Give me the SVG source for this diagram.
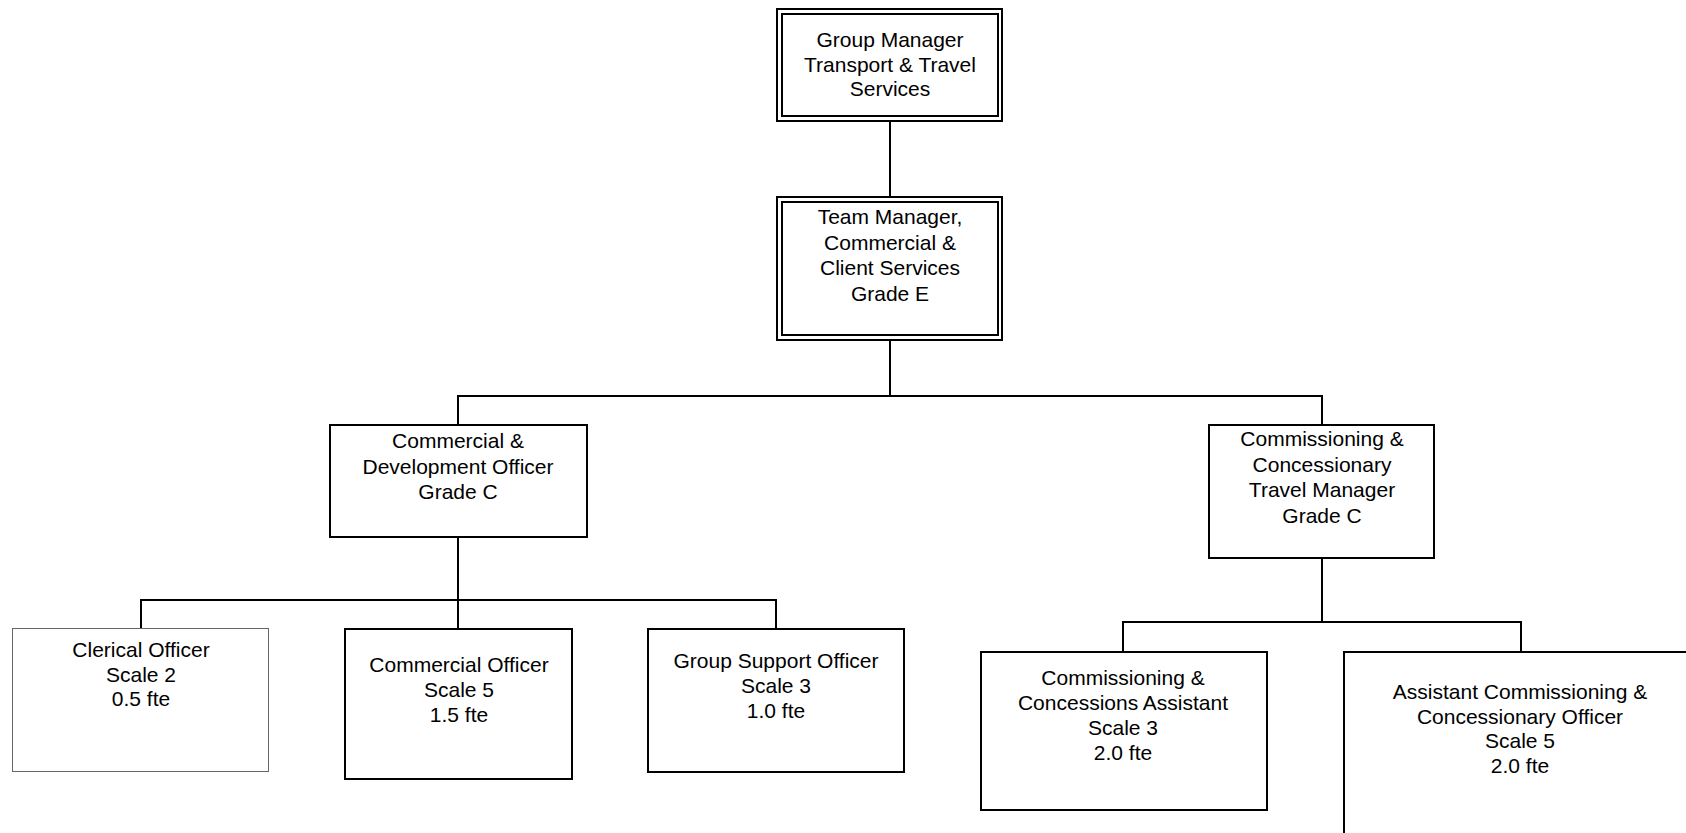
<svg xmlns="http://www.w3.org/2000/svg" width="1686" height="833" viewBox="0 0 1686 833">
<style>
.box{fill:#fff;stroke:#000;stroke-width:2}
.thin{fill:#fff;stroke:#666;stroke-width:1}
.conn line{stroke:#000;stroke-width:2}
text{font-family:"Liberation Sans",Arial,sans-serif;font-size:21px;fill:#000;text-anchor:middle}
</style>
<rect width="1686" height="833" fill="#fff"/>
<g id="connectors" class="conn">
<line x1="890" y1="122" x2="890" y2="196"/>
<line x1="890" y1="341" x2="890" y2="396"/>
<line x1="457" y1="396" x2="1323" y2="396"/>
<line x1="458" y1="396" x2="458" y2="424"/>
<line x1="1322" y1="396" x2="1322" y2="424"/>
<line x1="458" y1="537" x2="458" y2="628"/>
<line x1="140" y1="600" x2="777" y2="600"/>
<line x1="141" y1="600" x2="141" y2="628"/>
<line x1="776" y1="600" x2="776" y2="628"/>
<line x1="1322" y1="558" x2="1322" y2="622"/>
<line x1="1122" y1="622" x2="1522" y2="622"/>
<line x1="1123" y1="622" x2="1123" y2="651"/>
<line x1="1521" y1="622" x2="1521" y2="651"/>
</g>
<g id="group-manager">
<rect class="box" x="777" y="9" width="225" height="112"/>
<rect class="box" x="782" y="14" width="216" height="102"/>
<text x="890" y="47">Group Manager</text>
<text x="890" y="71.5">Transport &amp; Travel</text>
<text x="890" y="96">Services</text>
</g>
<g id="team-manager">
<rect class="box" x="777" y="197" width="225" height="143"/>
<rect class="box" x="782" y="202" width="216" height="133"/>
<text x="890" y="224">Team Manager,</text>
<text x="890" y="249.5">Commercial &amp;</text>
<text x="890" y="275">Client Services</text>
<text x="890" y="300.5">Grade E</text>
</g>
<g id="commercial-development-officer">
<rect class="box" x="330" y="425" width="257" height="112"/>
<text x="458" y="448">Commercial &amp;</text>
<text x="458" y="474">Development Officer</text>
<text x="458" y="499">Grade C</text>
</g>
<g id="commissioning-travel-manager">
<rect class="box" x="1209" y="425" width="225" height="133"/>
<text x="1322" y="446">Commissioning &amp;</text>
<text x="1322" y="471.5">Concessionary</text>
<text x="1322" y="497">Travel Manager</text>
<text x="1322" y="522.5">Grade C</text>
</g>
<g id="clerical-officer">
<rect class="thin" x="12.5" y="628.5" width="256" height="143"/>
<text x="141" y="657">Clerical Officer</text>
<text x="141" y="682">Scale 2</text>
<text x="141" y="706">0.5 fte</text>
</g>
<g id="commercial-officer">
<rect class="box" x="345" y="629" width="227" height="150"/>
<text x="459" y="672">Commercial Officer</text>
<text x="459" y="697">Scale 5</text>
<text x="459" y="722">1.5 fte</text>
</g>
<g id="group-support-officer">
<rect class="box" x="648" y="629" width="256" height="143"/>
<text x="776" y="668">Group Support Officer</text>
<text x="776" y="693">Scale 3</text>
<text x="776" y="718">1.0 fte</text>
</g>
<g id="commissioning-assistant">
<rect class="box" x="981" y="652" width="286" height="158"/>
<text x="1123" y="685">Commissioning &amp;</text>
<text x="1123" y="710">Concessions Assistant</text>
<text x="1123" y="735">Scale 3</text>
<text x="1123" y="760">2.0 fte</text>
</g>
<g id="assistant-commissioning-officer">
<rect class="box" x="1344" y="652" width="360" height="200"/>
<text x="1520" y="699">Assistant Commissioning &amp;</text>
<text x="1520" y="723.5">Concessionary Officer</text>
<text x="1520" y="748">Scale 5</text>
<text x="1520" y="773">2.0 fte</text>
</g>
</svg>
